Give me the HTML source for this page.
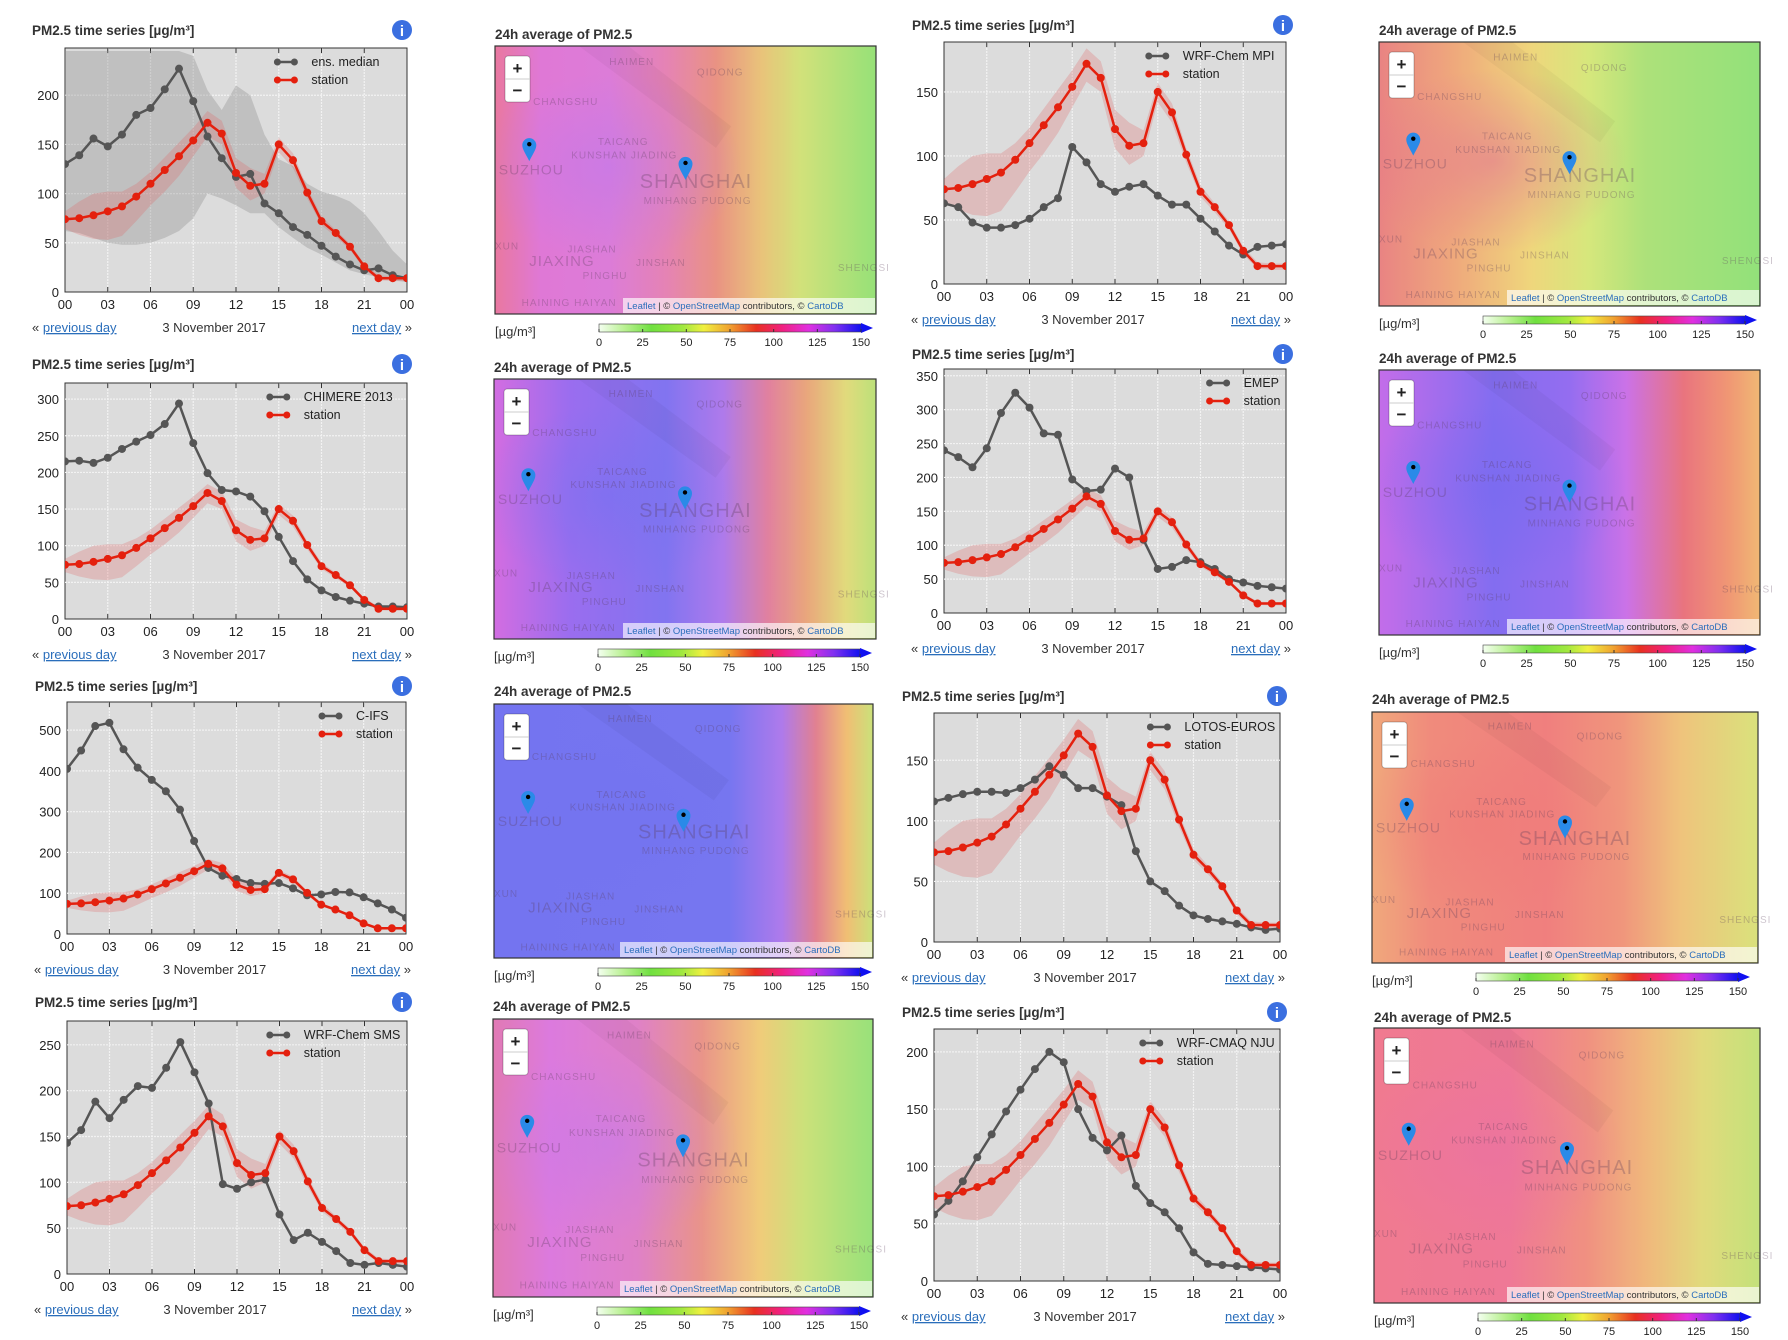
<!DOCTYPE html>
<html><head><meta charset="utf-8">
<style>
html,body{margin:0;padding:0;background:#fff;width:1788px;height:1340px;overflow:hidden}
svg{display:block;font-family:"Liberation Sans","DejaVu Sans",sans-serif}
</style></head>
<body>
<svg id="root" width="1788" height="1340" viewBox="0 0 1788 1340" xmlns="http://www.w3.org/2000/svg">
<defs>
<linearGradient id="cbar" x1="0" x2="1" y1="0" y2="0">
<stop offset="0" stop-color="#f4fff0"/><stop offset="0.1" stop-color="#b8f090"/><stop offset="0.2" stop-color="#70e040"/>
<stop offset="0.32" stop-color="#a0e840"/><stop offset="0.4" stop-color="#f0f040"/><stop offset="0.5" stop-color="#f0a030"/>
<stop offset="0.6" stop-color="#e83020"/><stop offset="0.7" stop-color="#f02080"/><stop offset="0.8" stop-color="#e030e0"/>
<stop offset="0.9" stop-color="#8030f0"/><stop offset="1" stop-color="#1010f0"/>
</linearGradient>
</defs>
</svg>
<script>
// ---------- data ----------
const hours = [0,1,2,3,4,5,6,7,8,9,10,11,12,13,14,15,16,17,18,19,20,21,22,23,24];
const xTickLabels = ['00','03','06','09','12','15','18','21','00'];
const stationVals = [74,75,78,82,87,97,110,124,138,154,172,161,121,108,110,150,134,101,72,60,46,26,14,14,14];
const stationHigh = [82,92,100,102,102,110,122,137,152,167,184,174,136,126,120,157,141,106,77,63,49,29,17,16,16];
const stationLow  = [64,58,54,53,57,72,88,102,118,138,158,150,106,93,100,142,126,95,68,56,43,23,12,11,11];
const ensMedian = [130,139,156,148,160,180,187,206,227,194,158,136,117,120,90,80,66,58,47,36,28,22,24,17,14];
const ensHigh   = [245,245,245,245,245,245,245,245,245,240,205,185,210,200,160,135,128,110,102,98,92,80,62,42,28];
const ensLow    = [62,60,55,50,48,48,50,55,62,75,100,95,88,80,80,66,55,45,38,30,22,18,15,12,10];
const mpiVals     = [63,60,48,44,44,46,51,60,67,107,95,78,72,76,78,69,62,62,51,41,30,23,29,30,31];
const chimereVals = [215,216,213,220,232,242,251,266,294,240,199,176,174,167,147,112,79,54,39,30,25,21,17,17,16];
const emepVals    = [240,230,215,243,295,325,303,265,263,197,180,182,213,200,108,65,68,78,75,65,50,45,40,38,36];
const cifsVals    = [405,450,510,518,453,408,378,350,305,228,162,143,135,125,123,125,112,95,97,103,102,90,75,60,40];
const lotosVals   = [116,119,122,124,124,123,127,134,145,138,127,127,120,113,75,50,42,30,22,19,17,15,12,10,11];
const smsVals     = [143,157,188,170,190,205,203,225,253,220,186,98,93,100,103,65,37,45,35,25,12,10,12,10,8];
const cmaqVals    = [58,70,87,108,128,148,167,185,200,191,150,125,114,127,83,68,60,46,25,15,14,13,12,11,10];
const yTicks1 = [0,50,100,150,200];
const yTicks2 = [0,50,100,150];
const yTicks3 = [0,50,100,150,200,250,300];
const yTicks4 = [0,50,100,150,200,250,300,350];
const yTicks5 = [0,100,200,300,400,500];
const yTicks6 = [0,50,100,150];
const yTicks7 = [0,50,100,150,200,250];
const yTicks8 = [0,50,100,150,200];
const cbarTicks = [0,25,50,75,100,125,150];

const NS='http://www.w3.org/2000/svg';
const root=document.getElementById('root');
function mk(tag,attrs,parent,text){const e=document.createElementNS(NS,tag);for(const k in attrs)e.setAttribute(k,attrs[k]);if(text!==undefined)e.textContent=text;(parent||root).appendChild(e);return e;}

const charts=[
 {id:'ens-median',name:'ens. median',vals:ensMedian,band:true,l:65,t:48,r:407,b:292,tx:32,ty:30,ix:402,ymax:248,ticks:yTicks1},
 {id:'wrf-chem-mpi',name:'WRF-Chem MPI',vals:mpiVals,l:944,t:42,r:1286,b:284,tx:912,ty:25,ix:1283,ymax:189,ticks:yTicks2},
 {id:'chimere-2013',name:'CHIMERE 2013',vals:chimereVals,l:65,t:383,r:407,b:619,tx:32,ty:364,ix:402,ymax:322,ticks:yTicks3},
 {id:'emep',name:'EMEP',vals:emepVals,l:944,t:369,r:1286,b:613,tx:912,ty:354,ix:1283,ymax:360,ticks:yTicks4},
 {id:'c-ifs',name:'C-IFS',vals:cifsVals,l:67,t:702,r:406,b:934,tx:35,ty:686,ix:402,ymax:569,ticks:yTicks5},
 {id:'lotos-euros',name:'LOTOS-EUROS',vals:lotosVals,l:934,t:713,r:1280,b:942,tx:902,ty:696,ix:1277,ymax:189,ticks:yTicks6},
 {id:'wrf-chem-sms',name:'WRF-Chem SMS',vals:smsVals,l:67,t:1021,r:407,b:1274,tx:35,ty:1002,ix:402,ymax:276,ticks:yTicks7},
 {id:'wrf-cmaq-nju',name:'WRF-CMAQ NJU',vals:cmaqVals,l:934,t:1029,r:1280,b:1281,tx:902,ty:1012,ix:1277,ymax:220,ticks:yTicks8}
];

charts.forEach(c=>{
 const g=mk('g',{});
 
 
 const X=h=>c.l+(h/24)*(c.r-c.l);
 const Y=v=>c.b-(v/c.ymax)*(c.b-c.t);
 const title=mk('text',{x:c.tx,y:c.ty+5,'font-size':13.5,'font-weight':'bold',fill:'#333'},g,'PM2.5 time series [µg/m³]');
 
 
 const info=mk('g',{},g);
 
 
 mk('circle',{cx:c.ix,cy:c.ty,r:10,fill:'#3b6fe0'},info);
 mk('text',{x:c.ix,y:c.ty+6,'font-size':15,'font-weight':'bold',fill:'#fff','text-anchor':'middle'},info,'i');
 const bg=mk('rect',{x:c.l,y:c.t,width:c.r-c.l,height:c.b-c.t,fill:'#dcdcdc',stroke:'#333','stroke-width':1},g);
 
 
 c.ticks.forEach(v=>{
  if(v>0) mk('line',{x1:c.l,x2:c.r,y1:Y(v),y2:Y(v),stroke:'#f2f2f2','stroke-width':1.2,'stroke-dasharray':'2,1'},g);
  const tl=mk('text',{x:c.l-6,y:Y(v)+5,'font-size':13,fill:'#222','text-anchor':'end'},g,String(v));
  
  
 });
 xTickLabels.forEach((lab,i)=>{
  const h=i*3;
  if(i>0&&i<8) mk('line',{x1:X(h),x2:X(h),y1:c.t,y2:c.b,stroke:'#f2f2f2','stroke-width':1.2,'stroke-dasharray':'2,1'},g);
  mk('line',{x1:X(h),x2:X(h),y1:c.b,y2:c.b-5,stroke:'#333'},g);
  mk('line',{x1:X(h),x2:X(h),y1:c.t,y2:c.t+5,stroke:'#333'},g);
  const tl=mk('text',{x:X(h),y:c.b+17,'font-size':13,fill:'#222','text-anchor':'middle'},g,lab);
  
  
 });
 const clip='clip-'+c.id;
 const cp=mk('clipPath',{id:clip},g);
 mk('rect',{x:c.l,y:c.t,width:c.r-c.l,height:c.b-c.t},cp);
 const pg=mk('g',{'clip-path':'url(#'+clip+')'},g);
 const bandPath=(hi,lo)=>'M'+hours.map((h,i)=>X(h)+','+Y(hi[i])).join('L')+'L'+hours.slice().reverse().map((h,j)=>{const i=hours.length-1-j;return X(h)+','+Y(lo[i]);}).join('L')+'Z';
 if(c.band){
  const eb=mk('path',{d:bandPath(ensHigh,ensLow),fill:'rgba(140,140,140,0.35)'},pg);
  
  
 }
 const sb=mk('path',{d:bandPath(stationHigh,stationLow),fill:'rgba(225,90,90,0.25)'},pg);
 
 
 function series(vals,col,nm){
  const sg=mk('g',{},pg);
  
  
  mk('polyline',{points:hours.map((h,i)=>X(h)+','+Y(vals[i])).join(' '),fill:'none',stroke:col,'stroke-width':2.5,'stroke-linejoin':'round'},sg);
  hours.forEach((h,i)=>{
   const p=mk('circle',{cx:X(h),cy:Y(vals[i]),r:4,fill:col},sg);
   
   
  });
 }
 series(c.vals,'#555555',c.id+'-line');
 series(stationVals,'#e4200e','station-line');
 const tw=c.name.length*7.6;
 const tx=c.r-12-tw;
 const lg=mk('g',{},g);
 
 
 [[c.name,'#555555',c.t+18],['station','#e4200e',c.t+36]].forEach(([n,col,y])=>{
  const le=mk('g',{},lg);
  
  
  mk('line',{x1:tx-37,x2:tx-14,y1:y-4,y2:y-4,stroke:col,'stroke-width':2.5},le);
  mk('circle',{cx:tx-34,cy:y-4,r:3.5,fill:col},le);
  mk('circle',{cx:tx-17,cy:y-4,r:3.5,fill:col},le);
  mk('text',{x:tx,y:y,'font-size':12.5,fill:'#222'},le,n);
 });
 const ny=c.b+40;
 const pv=mk('text',{x:c.l-33,y:ny,'font-size':13,fill:'#333'},g);
 
 
 mk('tspan',{},pv,'« ');
 mk('tspan',{fill:'#2a6ebb','text-decoration':'underline'},pv,'previous day');
 const dt=mk('text',{x:(c.l+c.r)/2-22,y:ny,'font-size':13,fill:'#333','text-anchor':'middle'},g,'3 November 2017');
 
 
 const nx=mk('text',{x:c.r+5,y:ny,'font-size':13,fill:'#333','text-anchor':'end'},g);
 
 
 mk('tspan',{fill:'#2a6ebb','text-decoration':'underline'},nx,'next day');
 mk('tspan',{},nx,' »');
});

// ---------- maps ----------
const maps=[
 {id:'map-ens',l:495,t:46,r:876,b:314,ty:34,stops:[[0,'#e8709a'],[0.12,'#de70d4'],[0.3,'#da74d6'],[0.45,'#e47cb0'],[0.58,'#e88c7c'],[0.7,'#e8c072'],[0.8,'#d0e072'],[1,'#90e070']],blob:'#b870f0'},
 {id:'map-mpi',l:1379,t:42,r:1760,b:306,ty:30,stops:[[0,'#e87c7c'],[0.2,'#eea474'],[0.4,'#eed474'],[0.55,'#d4e674'],[0.7,'#a8e072'],[1,'#8ce072]'.replace(']','')]],blob:'#e06090'},
 {id:'map-chimere',l:494,t:379,r:876,b:639,ty:367,stops:[[0,'#d064e0'],[0.2,'#9464ee'],[0.45,'#7a6cf0'],[0.6,'#aa72ea'],[0.72,'#e07a98'],[0.82,'#e8a274'],[0.92,'#e0d874'],[1,'#b8e072']],blob:'#6a6af0'},
 {id:'map-emep',l:1379,t:370,r:1760,b:635,ty:358,stops:[[0,'#c064e8'],[0.3,'#7c64f0'],[0.5,'#8e64f0'],[0.65,'#c86ae6'],[0.8,'#e86c76'],[0.92,'#f0926c'],[1,'#f0b46c']],blob:'#6a60f0'},
 {id:'map-cifs',l:494,t:704,r:873,b:958,ty:691,stops:[[0,'#6c6cf0'],[0.62,'#6e6ef0'],[0.76,'#aa72ea'],[0.85,'#e07a8a'],[0.93,'#f0ba6c'],[1,'#c8e072']],blob:'#6a6af0'},
 {id:'map-lotos',l:1372,t:712,r:1758,b:963,ty:699,stops:[[0,'#f0a474'],[0.15,'#f08474'],[0.45,'#f07876'],[0.65,'#f09074'],[0.8,'#eec074'],[1,'#d8e074']],blob:'#f07070'},
 {id:'map-sms',l:493,t:1019,r:873,b:1297,ty:1006,stops:[[0,'#e072b0'],[0.15,'#da72dc'],[0.38,'#de7ac4'],[0.55,'#e88e82'],[0.7,'#f0c872'],[0.82,'#c8e072'],[1,'#92e072']],blob:'#c070f0'},
 {id:'map-cmaq',l:1374,t:1028,r:1760,b:1303,ty:1017,stops:[[0,'#f0728a'],[0.35,'#ee7090'],[0.55,'#f08a7a'],[0.7,'#f0b274'],[0.85,'#e0d874'],[1,'#c0e072']],blob:'#e868a0'}
];
const defs=root.querySelector('defs');
const places=[['HAIMEN',0.3,0.07,10],['QIDONG',0.53,0.11,10],['CHANGSHU',0.1,0.22,10],['TAICANG',0.27,0.37,10],['KUNSHAN  JIADING',0.2,0.42,10],['SUZHOU',0.01,0.48,14],['SHANGHAI',0.38,0.53,20],['MINHANG  PUDONG',0.39,0.59,10],['XUN',0.0,0.76,10],['JIASHAN',0.19,0.77,10],['JIAXING',0.09,0.82,15],['JINSHAN',0.37,0.82,10],['PINGHU',0.23,0.87,10],['HAINING  HAIYAN',0.07,0.97,10],['SHENGSI',0.9,0.84,10]];
maps.forEach(m=>{
 const W=m.r-m.l,H=m.b-m.t;
 const g=mk('g',{});
 
 
 const tt=mk('text',{x:m.l,y:m.ty+5,'font-size':13.5,'font-weight':'bold',fill:'#333'},g,'24h average of PM2.5');
 
 
 const lg=mk('linearGradient',{id:'g-'+m.id,x1:0,x2:1,y1:0,y2:0},defs);
 m.stops.forEach(s=>mk('stop',{offset:s[0],'stop-color':s[1]},lg));
 const rg=mk('radialGradient',{id:'r-'+m.id,cx:0.3,cy:0.45,r:0.35},defs);
 mk('stop',{offset:0,'stop-color':m.blob,'stop-opacity':0.5},rg);
 mk('stop',{offset:1,'stop-color':m.blob,'stop-opacity':0},rg);
 const mp=mk('g',{},g);
 
 
 mk('rect',{x:m.l,y:m.t,width:W,height:H,fill:'url(#g-'+m.id+')'},mp);
 mk('rect',{x:m.l,y:m.t,width:W,height:H,fill:'url(#r-'+m.id+')'},mp);
 mk('rect',{x:m.l,y:m.t,width:W,height:H,fill:'rgba(255,255,255,0.06)'},mp);
 mk('path',{d:`M${m.l+W*0.22},${m.t} L${m.l+W*0.35},${m.t} L${m.l+W*0.62},${m.t+H*0.3} L${m.l+W*0.58},${m.t+H*0.38} Z`,fill:'rgba(0,0,0,0.035)'},mp);
 places.forEach(p=>{
  mk('text',{x:m.l+W*p[1],y:m.t+H*p[2],'font-size':p[3],fill:'rgba(90,60,90,0.3)','letter-spacing':1},mp,p[0]);
 });
 mk('rect',{x:m.l,y:m.t,width:W,height:H,fill:'none',stroke:'#333','stroke-width':1.2},mp);
 [[0.09,0.37],[0.5,0.44]].forEach(([fx,fy])=>{
  const mx=m.l+W*fx,my=m.t+H*fy;
  const mm=mk('g',{},mp);
  
  
  mk('path',{d:`M${mx},${my+16} C${mx-4},${my+8} ${mx-7},${my+4} ${mx-7},${my} A7,7 0 1,1 ${mx+7},${my} C${mx+7},${my+4} ${mx+4},${my+8} ${mx},${my+16} Z`,fill:'#2a8ae8'},mm);
  mk('circle',{cx:mx,cy:my-1,r:2.2,fill:'#000'},mm);
 });
 const zc=mk('g',{},mp);
 
 
 mk('rect',{x:m.l+10,y:m.t+10,width:25,height:46,rx:3,fill:'#fff',stroke:'rgba(0,0,0,0.25)'},zc);
 mk('line',{x1:m.l+10,x2:m.l+35,y1:m.t+33,y2:m.t+33,stroke:'#ccc'},zc);
 const zi=mk('text',{x:m.l+22.5,y:m.t+28,'font-size':17,'font-weight':'bold','text-anchor':'middle',fill:'#222'},zc,'+');
 
 
 const zo=mk('text',{x:m.l+22.5,y:m.t+50,'font-size':17,'font-weight':'bold','text-anchor':'middle',fill:'#222'},zc,'−');
 
 
 const at=mk('g',{},mp);
 
 
 mk('rect',{x:m.r-253,y:m.b-16,width:252,height:15,fill:'rgba(255,255,255,0.65)'},at);
 const atx=mk('text',{x:m.r-249,y:m.b-5,'font-size':9.5,fill:'#333'},at);
 mk('tspan',{fill:'#2a6ebb'},atx,'Leaflet');
 mk('tspan',{},atx,' | © ');
 mk('tspan',{fill:'#2a6ebb'},atx,'OpenStreetMap');
 mk('tspan',{},atx,' contributors, © ');
 mk('tspan',{fill:'#2a6ebb'},atx,'CartoDB');
 const cy=m.b+10, cx0=m.l+104, cw=262;
 const cb=mk('g',{},g);
 
 
 const ul=mk('text',{x:m.l,y:cy+12,'font-size':13,fill:'#333'},g,'[µg/m³]');
 
 
 mk('rect',{x:cx0,y:cy,width:cw,height:8,fill:'url(#cbar)',stroke:'#444','stroke-width':0.6},cb);
 mk('path',{d:`M${cx0+cw},${cy-1} L${cx0+cw+12},${cy+4} L${cx0+cw},${cy+9} Z`,fill:'#1010f0'},cb);
 cbarTicks.forEach(v=>{
  const x=cx0+v/150*cw;
  mk('line',{x1:x,x2:x,y1:cy+5,y2:cy+8,stroke:'#333'},cb);
  mk('text',{x:x,y:cy+22,'font-size':11,'text-anchor':'middle',fill:'#222'},cb,String(v));
 });
});
</script>
</body></html>
